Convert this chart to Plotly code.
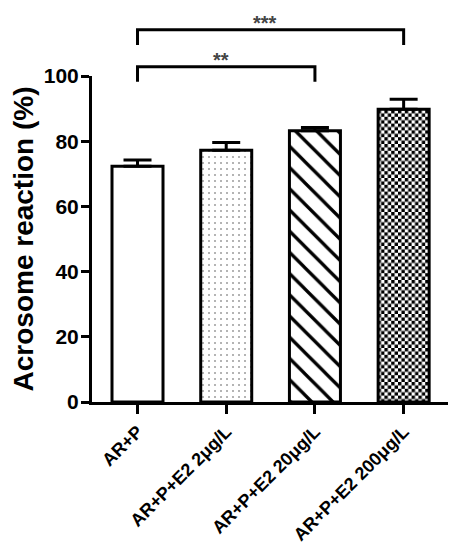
import plotly.graph_objects as go

categories = ["AR+P", "AR+P+E2 2μg/L", "AR+P+E2 20μg/L", "AR+P+E2 200μg/L"]
values = [72.3, 77.2, 83.2, 89.8]
errors = [1.9, 2.4, 1.0, 3.1]
y_ticks = [0, 20, 40, 60, 80, 100]
# significance brackets: (from index, to index, label, bracket height, leg bottom)
sig_pairs = [(0, 3, "***", 114.2, 109.5), (0, 2, "**", 102.8, 98.2)]

FONT = "Arial, Liberation Sans, sans-serif"
x_range = [-0.513, 3.50]
y_range = [0, 100]

patterns = [
    dict(shape=""),
    dict(shape=".", fgcolor="#444444", fgopacity=1, size=6, solidity=0.05),
    dict(shape="\\", fgcolor="#000000", fgopacity=1, size=15, solidity=0.22),
    dict(shape="+", fgcolor="#010203", fgopacity=1, size=7, solidity=0.5),
]

fig = go.Figure()
for i, (c, v, e) in enumerate(zip(categories, values, errors)):
    fig.add_trace(go.Bar(
        x=[c], y=[v], width=0.575,
        marker=dict(color="white", line=dict(color="black", width=3),
                    pattern=patterns[i]),
        error_y=dict(type="data", symmetric=False, array=[e], arrayminus=[0],
                     color="black", thickness=3, width=14),
        showlegend=False,
    ))

def xp(i):
    return (i - x_range[0]) / (x_range[1] - x_range[0])

def yp(v):
    return (v - y_range[0]) / (y_range[1] - y_range[0])

for a, b, lab, top, bot in sig_pairs:
    fig.add_shape(type="path", xref="paper", yref="paper",
                  path=f"M{xp(a)},{yp(bot)} L{xp(a)},{yp(top)} L{xp(b)},{yp(top)} L{xp(b)},{yp(bot)}",
                  line=dict(color="black", width=3))
    fig.add_annotation(xref="paper", yref="paper", x=(xp(a) + xp(b)) / 2 - 0.015,
                       y=yp(top) - 0.02, text=lab, showarrow=False,
                       font=dict(family=FONT, size=20, color="#444444", weight="bold"),
                       yanchor="bottom")

fig.update_layout(
    width=456, height=550,
    margin=dict(l=92, r=8, t=76, b=148),
    paper_bgcolor="white", plot_bgcolor="white",
    barmode="overlay",
    font=dict(family=FONT, color="black"),
    xaxis=dict(range=x_range, showline=True, linewidth=3, linecolor="black",
               ticks="outside", ticklen=9, tickwidth=2.5, tickcolor="black",
               tickangle=-45,
               tickfont=dict(family=FONT, size=18, weight="bold", color="black"),
               showgrid=False, zeroline=False, automargin=False),
    yaxis=dict(range=y_range, tickvals=y_ticks, showline=True, linewidth=3,
               linecolor="black", ticks="outside", ticklen=8, tickwidth=2.5,
               tickcolor="black",
               tickfont=dict(family=FONT, size=21, weight="bold", color="black"),
               ticklabelstandoff=-2,
               showgrid=False, zeroline=False, automargin=False,
               title=dict(text="Acrosome reaction (%)", standoff=2,
                          font=dict(family=FONT, size=28, weight="bold", color="black"))),
)

post = """
document.body.style.margin = '0';
var gd = document.getElementById('{plot_id}');
var ns = 'http://www.w3.org/2000/svg';
var pats = gd.querySelectorAll('pattern');
pats.forEach(function(p){
  var h = p.outerHTML;
  if (h.indexOf('1, 2, 3') >= 0 || h.indexOf('010203') >= 0) {
    var s = 3.4;
    while (p.firstChild) p.removeChild(p.firstChild);
    p.setAttribute('width', 2*s); p.setAttribute('height', 2*s);
    p.removeAttribute('patternTransform');
    [[0,0,2*s,2*s,'#ffffff'],[0,0,s,s,'#000000'],[s,s,s,s,'#000000']].forEach(function(r){
      var el = document.createElementNS(ns, 'rect');
      el.setAttribute('x', r[0]); el.setAttribute('y', r[1]);
      el.setAttribute('width', r[2]); el.setAttribute('height', r[3]);
      el.setAttribute('fill', r[4]);
      p.appendChild(el);
    });
  }
});
"""

fig.write_html("out.html", post_script=post, config={"displayModeBar": False})
